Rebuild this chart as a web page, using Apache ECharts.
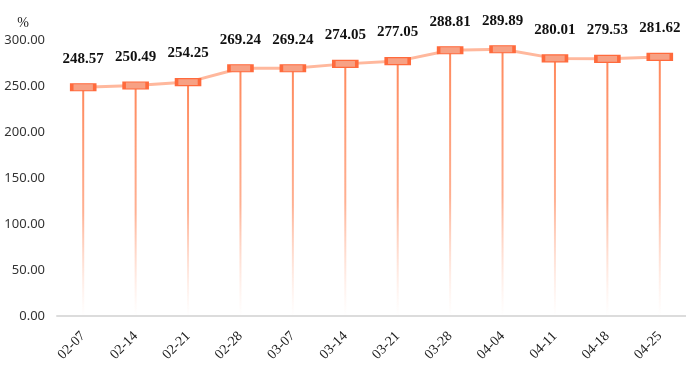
<!DOCTYPE html>
<html><head><meta charset="utf-8">
<script src="https://cdn.jsdelivr.net/npm/echarts@6/dist/echarts.min.js"></script>
<style>html,body{margin:0;padding:0;background:#fff}#c{width:686px;height:372px}</style>
</head><body><div id="c"></div>
<script>
const categories = ['02-07','02-14','02-21','02-28','03-07','03-14','03-21','03-28','04-04','04-11','04-18','04-25'];
const values = [248.57,250.49,254.25,269.24,269.24,274.05,277.05,288.81,289.89,280.01,279.53,281.62];
const yTicks = {min:0, max:300, interval:50};
const chart = echarts.init(document.getElementById('c'));
const serif = '"Liberation Serif","Times New Roman",serif';
const sans = '"Noto Sans","DejaVu Sans",sans-serif';
chart.setOption({
  animation:false,
  grid:{left:57,right:0,top:40,bottom:56,containLabel:false,outerBoundsMode:'none'},
  xAxis:{type:'category',data:categories,boundaryGap:true,
    axisLine:{lineStyle:{color:'#dcdcdc',width:2}},axisTick:{show:false},
    axisLabel:{rotate:45,fontFamily:serif,fontSize:14,color:'#222',margin:18}},
  yAxis:{type:'value',min:yTicks.min,max:yTicks.max,interval:yTicks.interval,name:'%',
    nameTextStyle:{fontFamily:serif,fontSize:14,color:'#222',align:'right',padding:[0,28,0,0]},
    nameGap:10,
    axisLine:{show:false},axisTick:{show:false},splitLine:{show:false},
    axisLabel:{fontFamily:sans,fontSize:13,color:'#333',margin:12,formatter:v=>v.toFixed(2)}},
  series:[
    {type:'bar',data:values,barWidth:2,z:1,barGap:'-100%',
     itemStyle:{color:new echarts.graphic.LinearGradient(0,0,0,1,[{offset:0,color:'#ff875a'},{offset:0.55,color:'rgba(255,150,110,0.75)'},{offset:1,color:'rgba(255,200,180,0)'}])}},
    {type:'line',data:values,z:3,symbol:'rect',symbolSize:[23,7],
     lineStyle:{color:'#ffb89d',width:3},
     itemStyle:{color:'#f7a184',borderColor:'#ff6a3c',borderWidth:2},
     label:{show:true,position:'top',distance:17,fontFamily:serif,fontWeight:'bold',fontSize:15,color:'#111',formatter:p=>p.value.toFixed(2)}}
  ]
});
</script></body></html>
